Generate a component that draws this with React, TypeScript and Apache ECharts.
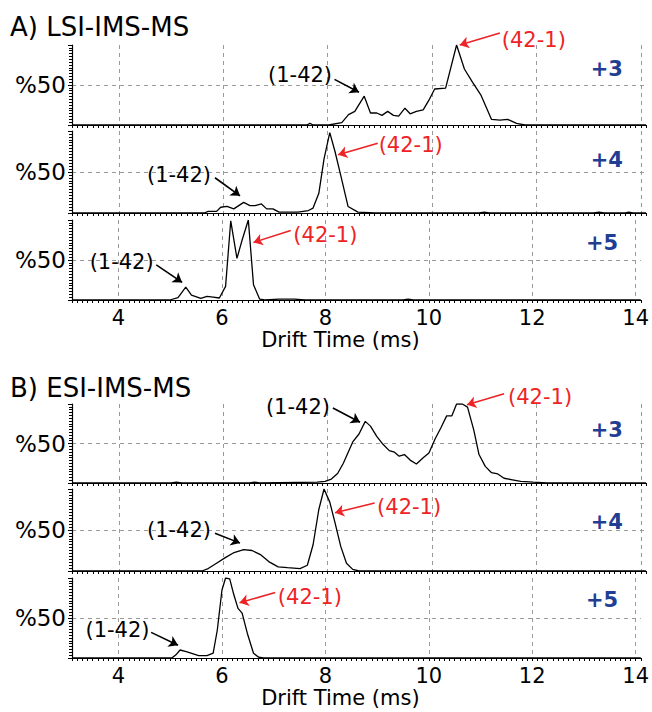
import React, { useEffect, useRef } from "react";
import * as echarts from "echarts";

// Drift-time axis (ms) and relative intensity (%) for each charge state.
// LSI-IMS-MS traces
const lsi3Time = [3.1, 7.6, 7.66, 7.72, 8.02, 8.27, 8.4, 8.52, 8.7, 8.82, 8.94, 9.04, 9.15, 9.26, 9.36, 9.48, 9.58, 9.7, 9.83, 9.94, 10.05, 10.26, 10.47, 10.62, 10.78, 10.94, 11.14, 11.3, 11.45, 11.62, 11.78, 14.1];
const lsi3Int = [0, 0, 2, 0, 0, 3, 13, 17, 36, 15, 15, 12, 17, 12, 11, 21, 14, 17, 19, 31, 45, 46, 100, 70, 53, 37, 7, 6, 7, 2, 0, 0];

const lsi4Time = [3.1, 5.63, 5.71, 5.87, 5.95, 6.07, 6.2, 6.39, 6.51, 6.61, 6.73, 6.83, 6.95, 7.07, 7.43, 7.63, 7.72, 7.83, 7.93, 8.04, 8.14, 8.25, 8.39, 8.58, 8.9, 10.9, 11.0, 11.1, 13.1, 13.2, 13.3, 13.7, 13.77, 13.85, 14.1];
const lsi4Int = [0, 0, 2, 2, 7, 8, 5, 13, 9, 9, 11, 5, 5, 1, 1, 3, 6, 24, 66, 98, 75, 46, 8, 1, 0, 0, 1, 0, 0, 1, 0, 0, 1, 0, 0];

const lsi5Time = [3.1, 4.99, 5.15, 5.3, 5.41, 5.59, 5.71, 5.83, 5.95, 6.07, 6.17, 6.29, 6.39, 6.51, 6.61, 6.73, 6.83, 7.1, 7.4, 7.6, 9.5, 9.6, 9.7, 14.1];
const lsi5Int = [0, 0, 3, 16, 6, 2, 4.5, 3.5, 2.5, 17, 99, 52, 75, 100, 19, 1, 0, 1, 1, 0, 0, 1, 0, 0];

// ESI-IMS-MS traces
const esi3Time = [3.1, 5.0, 5.1, 5.2, 6.5, 6.6, 6.7, 7.8, 7.95, 8.07, 8.19, 8.3, 8.48, 8.6, 8.72, 8.82, 8.94, 9.06, 9.18, 9.28, 9.37, 9.47, 9.58, 9.7, 9.83, 9.94, 10.06, 10.17, 10.28, 10.38, 10.47, 10.58, 10.68, 10.8, 10.9, 11.02, 11.14, 11.26, 11.38, 11.54, 11.7, 11.94, 12.2, 14.1];
const esi3Int = [0, 0, 1, 0, 0, 1, 0, 1, 2, 5, 12, 25, 52, 62, 78, 72, 59, 49, 41, 39, 34, 36, 29, 24, 32, 38, 56, 70, 85, 85, 100, 100, 96, 67, 36, 21, 13, 11.5, 6, 4, 2, 1, 0, 0];

const esi4Time = [3.1, 5.59, 5.71, 5.87, 6.03, 6.19, 6.39, 6.55, 6.71, 6.87, 7.05, 7.23, 7.47, 7.61, 7.72, 7.83, 7.93, 8.04, 8.14, 8.25, 8.36, 8.48, 8.6, 14.1];
const esi4Int = [0, 0, 3, 9.5, 16, 22, 26, 25, 20, 11.5, 5, 4, 3, 7, 32, 75, 100, 84, 59, 30, 9.5, 2, 0, 0];

const esi5Time = [3.1, 5.03, 5.11, 5.19, 5.31, 5.55, 5.71, 5.83, 5.91, 6.0, 6.07, 6.15, 6.23, 6.31, 6.39, 6.49, 6.61, 6.71, 6.8, 14.1];
const esi5Int = [0, 0, 4, 10, 8, 3, 3, 6, 35, 85, 100, 99, 79, 62, 56, 31, 6, 1, 0, 0];

const panelTitles = ["A) LSI-IMS-MS", "B) ESI-IMS-MS"];
const chargeStates = ["+3", "+4", "+5", "+3", "+4", "+5"];
const isomerNames = ["(1-42)", "(42-1)"];
const xTickValues = [4, 6, 8, 10, 12, 14];
const xAxisName = "Drift Time (ms)";

const FONT = "'DejaVu Sans', 'Liberation Sans', Arial, sans-serif";
const RED = "#ee2326";
const BLUE = "#1f3e94";

type Anno = {
  text: [number, number];
  from: [number, number];
  to: [number, number];
};

// Each stacked strip: its trace, where its labels sit (drift time, %), and its frame.
const strips: {
  top: number;
  height: number;
  time: number[];
  inten: number[];
  bottom: boolean;
  charge: [number, number];
  a: Anno; // (1-42)
  b: Anno; // (42-1)
}[] = [
  {
    top: 45, height: 80, time: lsi3Time, inten: lsi3Int, bottom: false,
    charge: [13.35, 70],
    a: { text: [7.47, 62], from: [8.13, 57], to: [8.6, 41] },
    b: { text: [11.95, 106], from: [11.3, 115], to: [10.53, 100] },
  },
  {
    top: 131, height: 82, time: lsi4Time, inten: lsi4Int, bottom: false,
    charge: [13.35, 65],
    a: { text: [5.15, 46], from: [5.84, 43], to: [6.32, 21] },
    b: { text: [9.59, 83], from: [8.96, 85], to: [8.2, 71] },
  },
  {
    top: 220, height: 80, time: lsi5Time, inten: lsi5Int, bottom: true,
    charge: [13.35, 71],
    a: { text: [4.06, 47], from: [4.73, 44], to: [5.23, 22] },
    b: { text: [8.0, 81], from: [7.33, 87], to: [6.61, 72] },
  },
  {
    top: 404, height: 79, time: esi3Time, inten: esi3Int, bottom: false,
    charge: [13.35, 67],
    a: { text: [7.43, 96], from: [8.1, 95], to: [8.62, 77] },
    b: { text: [12.07, 109], from: [11.38, 113], to: [10.67, 99] },
  },
  {
    top: 489, height: 82, time: esi4Time, inten: esi4Int, bottom: false,
    charge: [13.35, 60],
    a: { text: [5.15, 50], from: [5.84, 46], to: [6.32, 34] },
    b: { text: [9.56, 78], from: [8.9, 83], to: [8.14, 71] },
  },
  {
    top: 578, height: 80, time: esi5Time, inten: esi5Int, bottom: true,
    charge: [13.35, 72],
    a: { text: [3.98, 35], from: [4.63, 32], to: [5.15, 16] },
    b: { text: [7.7, 76], from: [7.03, 82], to: [6.34, 69] },
  },
];

const X_MIN = 3.1;
const X_MAX = 14.1;
const X_STEP = 0.1;

// Dashed vertical grid only at the labelled drift times (ticks run every 0.1 ms from X_MIN).
const xSplitColors = (() => {
  const period = Math.round(2 / X_STEP);
  const first = Math.round((xTickValues[0] - X_MIN) / X_STEP) % period;
  return Array.from({ length: period }, (_, k) => (k === first ? "#9a9a9a" : "rgba(0,0,0,0)"));
})();

function xLabel(v: number) {
  const r = Math.round(v);
  return Math.abs(v - r) < 1e-6 && xTickValues.includes(r) ? String(r) : "";
}

function buildOption() {
  const grid = strips.map((s) => ({ left: 72, width: 574, top: s.top, height: s.height }));

  const xAxis = strips.map((s, i) => ({
    type: "value",
    gridIndex: i,
    min: X_MIN,
    max: X_MAX,
    interval: X_STEP,
    axisLine: { show: true, onZero: false, lineStyle: { color: "#000", width: 1.2 } },
    axisTick: { show: true, length: 3, lineStyle: { color: "#000", width: 1 } },
    axisLabel: {
      show: s.bottom,
      margin: 7,
      fontSize: 21,
      color: "#000",
      fontFamily: FONT,
      formatter: xLabel,
    },
    splitLine: { show: true, lineStyle: { color: xSplitColors, type: [4, 4], width: 1 } },
    name: s.bottom ? xAxisName : "",
    nameLocation: "middle",
    nameGap: 29,
    nameTextStyle: { fontSize: 21, color: "#000", fontFamily: FONT, padding: [0, 32, 0, 0] },
  }));

  const yAxis = strips.map((s, i) => ({
    type: "value",
    gridIndex: i,
    min: 0,
    max: 100,
    interval: 50,
    axisLine: { show: true, onZero: false, lineStyle: { color: "#000", width: 1.2 } },
    axisTick: { show: true, length: 4, lineStyle: { color: "#000", width: 1 } },
    minorTick: { show: true, splitNumber: 14, length: 3, lineStyle: { color: "#000", width: 1 } },
    axisLabel: {
      margin: 6,
      fontSize: 23,
      color: "#000",
      fontFamily: FONT,
      formatter: (v: number) => (v === 50 ? "%50" : ""),
    },
    splitLine: {
      show: true,
      lineStyle: { color: ["rgba(0,0,0,0)", "#9a9a9a", "rgba(0,0,0,0)"], type: [4, 4], width: 1 },
    },
  }));

  const series: any[] = [];
  strips.forEach((s, i) => {
    series.push({
      type: "line",
      xAxisIndex: i,
      yAxisIndex: i,
      data: s.time.map((t, k) => [t, s.inten[k]]),
      symbol: "none",
      showSymbol: false,
      silent: true,
      lineStyle: { color: "#000", width: 1.3 },
      z: 3,
    });
    series.push({
      type: "lines",
      coordinateSystem: "cartesian2d",
      xAxisIndex: i,
      yAxisIndex: i,
      clip: false,
      silent: true,
      symbol: ["none", "arrow"],
      symbolSize: 9,
      z: 4,
      data: [
        { coords: [s.a.from, s.a.to], lineStyle: { color: "#000" } },
        { coords: [s.b.from, s.b.to], lineStyle: { color: RED } },
      ],
      lineStyle: { width: 1.6, opacity: 1, curveness: 0 },
    });
    series.push({
      type: "scatter",
      xAxisIndex: i,
      yAxisIndex: i,
      clip: false,
      silent: true,
      symbolSize: 1,
      itemStyle: { color: "rgba(0,0,0,0)", opacity: 1 },
      z: 5,
      label: {
        show: true,
        position: "inside",
        fontFamily: FONT,
        fontSize: 21,
        opacity: 1,
        formatter: (p: any) => p.name,
      },
      data: [
        { name: isomerNames[0], value: s.a.text, label: { color: "#000" } },
        { name: isomerNames[1], value: s.b.text, label: { color: RED } },
        {
          name: chargeStates[i],
          value: s.charge,
          label: { color: BLUE, fontWeight: "bold", fontSize: 21 },
        },
      ],
    });
  });

  return {
    animation: false,
    backgroundColor: "#fff",
    textStyle: { fontFamily: FONT },
    title: [
      {
        text: panelTitles[0],
        left: 10,
        top: 14,
        padding: 0,
        textStyle: { fontSize: 26, fontWeight: "normal", color: "#000", fontFamily: FONT },
      },
      {
        text: panelTitles[1],
        left: 10,
        top: 375,
        padding: 0,
        textStyle: { fontSize: 26, fontWeight: "normal", color: "#000", fontFamily: FONT },
      },
    ],
    grid,
    xAxis,
    yAxis,
    series,
  };
}

export default function App() {
  const ref = useRef<HTMLDivElement>(null);
  useEffect(() => {
    if (!ref.current) return;
    const chart = echarts.init(ref.current, undefined, { renderer: "svg" });
    chart.setOption(buildOption() as any);
    return () => chart.dispose();
  }, []);
  return (
    <div
      ref={ref}
      style={{ position: "fixed", left: 0, top: 0, width: 652, height: 712, background: "#fff" }}
    />
  );
}
